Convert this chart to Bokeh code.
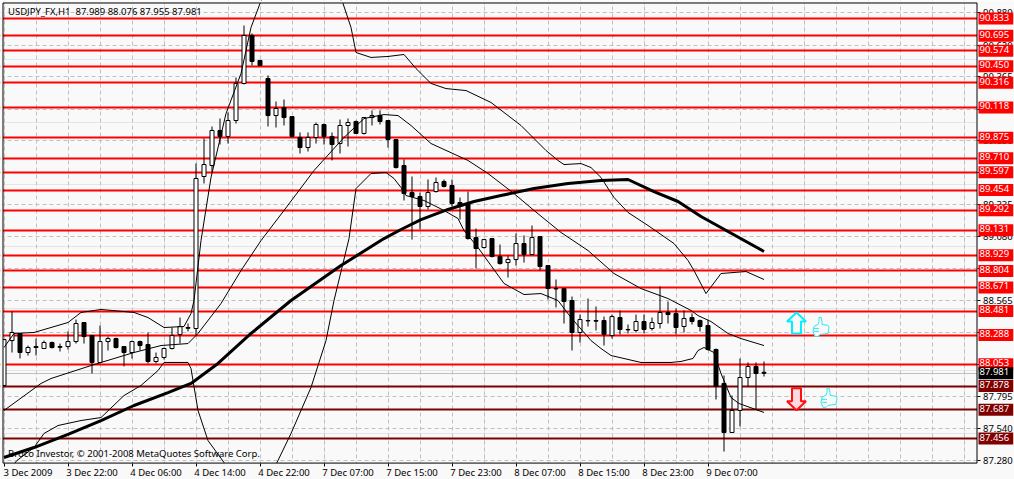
from bokeh.plotting import figure
from bokeh.embed import file_html
from bokeh.resources import INLINE
from bokeh.models import Range1d, LinearAxis, FixedTicker, PrintfTickFormatter, Label, Grid

# ---- candles (bar index = position in the arrays) ----
opens = [87.883,88.244,88.301,88.148,88.188,88.180,88.228,88.196,88.196,88.236,88.389,88.284,88.068,88.236,88.260,88.196,
         88.148,88.236,88.212,88.076,88.108,88.180,88.293,88.349,88.341,89.563,89.651,89.933,89.885,90.013,90.311,90.697,
         90.496,90.351,90.053,90.118,90.045,89.877,89.796,89.877,89.981,89.885,89.828,89.973,90.005,89.909,90.037,90.053,
         90.013,89.860,89.651,89.434,89.402,89.322,89.442,89.523,89.491,89.354,89.346,89.072,88.992,89.064,88.920,88.871,
         88.896,89.024,88.936,89.080,88.847,88.662,88.662,88.566,88.309,88.405,88.405,88.405,88.284,88.429,88.333,88.325,
         88.397,88.341,88.381,88.470,88.462,88.357,88.429,88.405,88.365,88.172,87.899,87.505,87.682,87.947,88.036,87.989]
highs = [88.252,88.478,88.301,88.204,88.260,88.244,88.236,88.220,88.317,88.413,88.389,88.284,88.365,88.276,88.268,88.196,
         88.244,88.244,88.309,88.148,88.188,88.349,88.429,88.381,89.668,89.869,89.965,90.029,90.078,90.359,90.777,90.713,
         90.496,90.375,90.166,90.182,90.045,89.917,89.917,89.997,89.989,89.917,90.021,90.029,90.013,90.037,90.094,90.094,
         90.013,89.860,89.700,89.563,89.434,89.539,89.555,89.539,89.539,89.394,89.442,89.145,89.056,89.064,89.016,88.928,
         89.105,89.089,89.169,89.080,88.847,88.735,88.662,88.598,88.453,88.582,88.518,88.437,88.453,88.486,88.373,88.453,
         88.453,88.429,88.679,88.558,88.502,88.486,88.462,88.413,88.413,88.180,87.963,87.802,88.100,88.068,88.068,88.076]
lows = [87.883,88.148,88.100,88.124,88.124,88.180,88.180,88.156,88.172,88.220,88.220,87.979,88.060,88.164,88.180,88.036,
        88.100,88.164,88.060,88.060,88.092,88.172,88.220,88.317,88.284,89.507,89.595,89.820,89.828,89.989,90.303,90.455,
        90.455,89.965,89.957,89.973,89.877,89.748,89.764,89.828,89.820,89.692,89.748,89.804,89.909,89.901,89.973,89.981,
        89.796,89.627,89.370,89.056,89.137,89.298,89.434,89.475,89.322,89.217,89.056,88.823,88.984,88.912,88.855,88.751,
        88.847,88.871,88.936,88.807,88.574,88.510,88.381,88.164,88.228,88.357,88.325,88.204,88.260,88.293,88.301,88.309,
        88.301,88.325,88.341,88.381,88.293,88.309,88.373,88.317,88.164,87.770,87.352,87.505,87.553,87.875,87.690,87.955]
closes = [88.252,88.309,88.148,88.188,88.196,88.228,88.188,88.190,88.236,88.381,88.276,88.068,88.236,88.260,88.188,88.148,
          88.236,88.204,88.076,88.108,88.180,88.284,88.357,88.343,89.547,89.659,89.933,89.885,90.013,90.311,90.697,90.488,
          90.455,90.053,90.110,90.037,89.885,89.796,89.877,89.981,89.885,89.820,89.973,89.997,89.909,90.037,90.053,90.005,
          89.860,89.635,89.426,89.402,89.322,89.434,89.515,89.483,89.346,89.322,89.064,88.984,89.056,88.920,88.863,88.896,
          89.024,88.936,89.072,88.839,88.662,88.659,88.558,88.309,88.413,88.402,88.400,88.293,88.437,88.333,88.330,88.397,
          88.333,88.389,88.470,88.453,88.349,88.421,88.397,88.357,88.172,87.875,87.505,87.682,87.947,88.036,87.979,87.981]

# ---- thick moving average ----
ma_bar = [0,3.75,8,12.125,16.25,20.5,23.375,26.75,30.875,35.875,42.125,47.5,49.625,52.125,55.5,58.75,62.125,66.25,70.5,74.625,78,81.25,84.25,87.125,95]
ma_val = [87.304,87.384,87.489,87.601,87.722,87.826,87.899,88.060,88.301,88.566,88.847,89.064,89.137,89.217,89.298,89.362,89.410,89.466,89.507,89.531,89.539,89.442,89.362,89.241,88.960]

# ---- Bollinger bands ----
mid_bar = [0,4.625,5.875,10.875,12.125,16.25,19.625,23,24.25,27.125,29.625,32.125,35,38.75,42.5,45,47.5,49.25,50.875,53.375,58,60.5,63.75,66.25,69.625,73,76.25,79.625,83,85.875,86.75,88.375,90.5,92.125,95]
mid_val = [87.682,87.899,87.939,88.043,88.068,88.148,88.204,88.220,88.301,88.542,88.807,89.048,89.290,89.611,89.877,90.029,90.061,90.053,89.973,89.828,89.692,89.587,89.426,89.290,89.113,88.968,88.783,88.662,88.582,88.486,88.445,88.397,88.301,88.260,88.204]
up_bar = [0,1.25,3.75,5.875,8,9.625,12.125,16.25,18,20,22.5,23.375,23.75,24.625,25.875,27.75,29.625,30.875,32,35.25,39.625,42.375,43.375,44,45.875,48,50,51.5,53.375,55.25,57.75,60.875,64.625,67.75,69.25,70,72.125,73.375,74.625,76.25,78,80.5,83.75,85.5,86.25,87.75,89.625,92.75,95]
up_val = [88.188,88.301,88.309,88.349,88.389,88.470,88.494,88.470,88.429,88.349,88.357,88.462,88.566,89.048,89.555,90.069,90.391,90.761,90.954,91.380,91.219,90.954,90.761,90.560,90.520,90.528,90.544,90.431,90.311,90.270,90.254,90.158,89.973,89.772,89.692,89.659,89.667,89.635,89.555,89.394,89.274,89.169,89.024,88.888,88.807,88.622,88.783,88.799,88.735]
lo_bar = [0,1.625,3.75,5,6.75,9.625,12.125,15,17.125,19.25,20,23,23.375,24.25,25.5,27.5,30.875,34.25,35.875,38.375,40.25,41.25,43.125,44,45.875,47.75,48.75,49.625,50.25,52.5,55,56.75,57.5,59.25,60.875,62.5,65,67.125,69.25,70.875,73.375,74.625,75.875,79.625,83.375,84.625,86.125,86.75,87.5,88.75,89.625,90.875,91.875,95]
lo_val = [87.159,87.280,87.384,87.497,87.561,87.601,87.625,87.802,87.883,88.003,88.068,88.068,88.019,87.682,87.440,87.264,86.878,87.280,87.497,87.867,88.244,88.566,89.064,89.466,89.587,89.595,89.547,89.474,89.410,89.370,89.290,89.225,89.129,88.992,88.847,88.703,88.614,88.622,88.566,88.429,88.244,88.180,88.124,88.068,88.068,88.076,88.100,88.164,88.188,88.148,87.979,87.786,87.738,87.666]

# ---- levels and axes ----
red_levels = [90.833,90.695,90.574,90.450,90.316,90.118,89.875,89.710,89.597,89.454,89.292,89.131,88.929,88.804,88.671,88.481,88.288,88.053]
dark_levels = [87.878,87.687,87.456]
last_price = 87.981
price_ticks = [87.280,87.540,87.795,88.050,88.310,88.565,88.820,89.080,89.335,89.595,89.850,90.105,90.365,90.620,90.880]
time_labels = ["3 Dec 2009","3 Dec 22:00","4 Dec 06:00","4 Dec 14:00","4 Dec 22:00","7 Dec 07:00","7 Dec 15:00","7 Dec 23:00","8 Dec 07:00","8 Dec 15:00","8 Dec 23:00","9 Dec 07:00"]
time_bars = [0,8,16,24,32,40,48,56,64,72,80,88]
grid_bars = list(range(0,122,4))
header = "USDJPY_FX,H1\u00a0 87.989 88.076 87.955 87.981"
footer = "Broco Investor, \u00a9 2001-2008 MetaQuotes Software Corp."

FONT = "Noto Sans"
FS = "9.5px"
BG = "#f9f9f9"

# chart box, in bars and prices; the rest of the drawing area holds the scales
BOX_LEFT, BOX_RIGHT = -0.125, 121.625
BOX_BOTTOM, BOX_TOP = 87.259, 90.958
VIEW_LEFT, VIEW_RIGHT = -0.4375, 126.3125
VIEW_BOTTOM, VIEW_TOP = 87.127, 90.978

p = figure(width=1014, height=479, output_backend="svg", toolbar_location=None,
           x_range=Range1d(VIEW_LEFT, VIEW_RIGHT), y_range=Range1d(VIEW_BOTTOM, VIEW_TOP),
           min_border_left=0, min_border_top=0, min_border_right=0, min_border_bottom=0,
           x_axis_location=None, y_axis_location=None,
           background_fill_color=BG, border_fill_color=BG)
p.outline_line_color = None

xax = LinearAxis(ticker=FixedTicker(ticks=[b + 3 for b in time_bars], minor_ticks=time_bars),
                 major_label_overrides={b + 3: t for b, t in zip(time_bars, time_labels)},
                 fixed_location=BOX_BOTTOM)
xax.major_tick_line_color = None
xax.major_tick_out = 0
xax.major_tick_in = 0
xax.minor_tick_line_color = "black"
xax.minor_tick_out = 3
xax.minor_tick_in = 0
xax.axis_line_color = None
xax.major_label_standoff = 0
xax.major_label_text_font = FONT
xax.major_label_text_font_size = FS
xax.major_label_text_color = "black"
p.add_layout(xax, "below")

yax = LinearAxis(ticker=FixedTicker(ticks=price_ticks), formatter=PrintfTickFormatter(format="%.3f"),
                 fixed_location=BOX_RIGHT)
yax.major_tick_line_color = "black"
yax.major_tick_out = 3
yax.major_tick_in = 0
yax.minor_tick_line_color = None
yax.axis_line_color = None
yax.major_label_standoff = 3
yax.major_label_text_font = FONT
yax.major_label_text_font_size = FS
yax.major_label_text_color = "black"
p.add_layout(yax, "right")

p.add_layout(Grid(dimension=0, ticker=FixedTicker(ticks=grid_bars), grid_line_color="#c0c0c0", grid_line_dash="4 3", axis=xax))
p.add_layout(Grid(dimension=1, ticker=FixedTicker(ticks=price_ticks), grid_line_color="#c0c0c0", grid_line_dash="4 3", axis=yax))

# levels
p.hspan(y=[last_price], line_color="#c0c0c0", line_width=1)
p.hspan(y=red_levels, line_color="#ff0000", line_width=2)
p.hspan(y=dark_levels, line_color="#800000", line_width=2)

# candles
n = len(opens)
bars = list(range(n))
p.segment(bars, highs, bars, lows, line_color="black", line_width=1)
up = [i for i in bars if closes[i] >= opens[i]]
dn = [i for i in bars if closes[i] < opens[i]]
p.vbar(x=up, top=[closes[i] for i in up], bottom=[opens[i] for i in up], width=0.5, fill_color="white", line_color="black", line_width=1)
p.vbar(x=dn, top=[opens[i] for i in dn], bottom=[closes[i] for i in dn], width=0.5, fill_color="black", line_color="black", line_width=1)

# indicators
p.line(up_bar, up_val, line_color="black", line_width=1)
p.line(mid_bar, mid_val, line_color="black", line_width=1)
p.line(lo_bar, lo_val, line_color="black", line_width=1)
p.line(ma_bar, ma_val, line_color="black", line_width=3)

# signal marks: arrows and thumbs, placed by bar and price
BAR = 1 / 8          # bars per pixel
PX = 0.00804         # price per pixel

def place(bar0, price0, pts):
    return [bar0 + a * BAR for a, b in pts], [price0 - b * PX for a, b in pts]

up_arrow = [(9.5,0),(19,9),(14,9),(14,21),(5,21),(5,9),(0,9)]
down_arrow = [(5,0),(14,0),(14,13),(19,13),(9.5,22),(0,13),(5,13)]
thumb = [(6,0),(8,0),(9,4),(9,7),(15,8),(16,10),(15,16),(7,17),(5,19),(2,19),(0,14),(1,9),(5,7),(6,4)]
finger1 = [(1,11),(6,11)]
finger2 = [(1,14),(6,14)]

ax, ay = place(97.875, 88.470, up_arrow)
p.patch(ax, ay, fill_color="#f9f9f9", line_color="#00f0ff", line_width=2)
ax, ay = place(97.875, 87.860, down_arrow)
p.patch(ax, ay, fill_color="#ffd8e0", line_color="#ff1010", line_width=2)
for b0, pr0 in [(101.125, 88.430), (102.125, 87.860)]:
    ax, ay = place(b0, pr0, thumb)
    p.patch(ax, ay, fill_color="#f9f9f9", line_color="#30e8f0", line_width=1)
    for f in (finger1, finger2):
        ax, ay = place(b0, pr0, f)
        p.line(ax, ay, line_color="#30e8f0", line_width=1)

# margins around the chart box, then its black border
p.quad(left=[VIEW_LEFT, BOX_RIGHT, VIEW_LEFT, VIEW_LEFT],
       right=[BOX_LEFT, VIEW_RIGHT, VIEW_RIGHT, VIEW_RIGHT],
       bottom=[VIEW_BOTTOM, VIEW_BOTTOM, VIEW_BOTTOM, BOX_TOP],
       top=[VIEW_TOP, VIEW_TOP, BOX_BOTTOM, VIEW_TOP],
       fill_color=BG, line_color=None)
p.quad(left=[BOX_LEFT], right=[BOX_RIGHT], bottom=[BOX_BOTTOM], top=[BOX_TOP],
       fill_color=None, line_color="black", line_width=1)

# texts in the chart
p.add_layout(Label(x=0.5, y=90.89, text=header, text_font=FONT, text_font_size=FS, text_color="black", text_baseline="middle"))
p.add_layout(Label(x=0.5, y=87.336, text=footer, text_font=FONT, text_font_size=FS, text_color="black", text_baseline="middle"))

# price labels on the scale
TAG_BAR = 121.8125

def price_tag(v, bg):
    return Label(x=TAG_BAR, y=v, text=f"{v:.3f}", text_font=FONT, text_font_size=FS,
                 text_color="white", text_baseline="middle", text_align="left", background_fill_color=bg,
                 padding=(1, 4, 1, 4))

for v in red_levels:
    p.add_layout(price_tag(v, "#ff0000"))
p.add_layout(price_tag(last_price, "#000000"))
for v in dark_levels:
    p.add_layout(price_tag(v, "#800000"))

open("out.html", "w").write(file_html(p, INLINE))
